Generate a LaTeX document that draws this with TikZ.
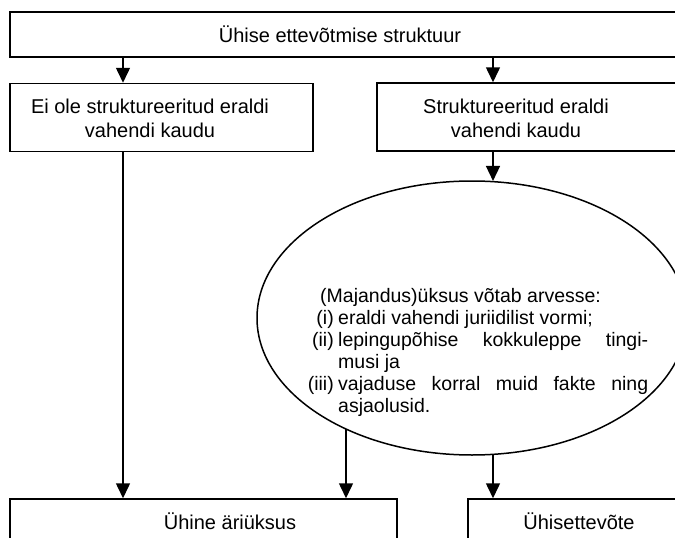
\documentclass[tikz,border=0pt]{standalone}
\usepackage{fontspec}
\setmainfont{Liberation Sans}
\usetikzlibrary{arrows.meta,shapes.geometric}
\begin{document}
\begin{tikzpicture}[x=1pt,y=-1pt,
  box/.style={draw,line width=1.5pt,rectangle,inner sep=0pt},
  arr/.style={line width=1.5pt,-{Triangle[width=14pt,length=15pt]}},
  txt/.style={font=\fontsize{20}{24}\selectfont,inner sep=0pt},
  etxt/.style={font=\fontsize{19.5}{24}\selectfont,inner sep=0pt},
]
\useasboundingbox (0,0) rectangle (675,538);
\fill[white] (0,0) rectangle (675,538);
\clip (0,0) rectangle (675,538);

\coordinate (cL) at (123,0);
\coordinate (cR) at (493,0);
\coordinate (cM) at (346,0);

\node[box,minimum width=690pt,minimum height=45pt] (top) at (355,34.5) {};
\node[box,minimum width=303pt,minimum height=68pt] (lb) at (161.5,117.5) {};
\node[box,minimum width=323pt,minimum height=68pt] (rb) at (538.5,117) {};
\node[draw,line width=1.5pt,ellipse,inner sep=0pt,minimum width=430pt,minimum height=274pt] (ell) at (472,318) {};
\node[box,minimum width=387pt,minimum height=71pt] (bl) at (203.5,534.5) {};
\node[box,minimum width=232pt,minimum height=71pt] (br) at (584,534.5) {};

\node[txt] (ttop) at (340,34) {Ühise ettevõtmise struktuur};
\node[txt,align=center] (tlb) at (150,118) {Ei ole struktureeritud eraldi\\vahendi kaudu};
\node[txt,align=center] (trb) at (516,118) {Struktureeritud eraldi\\vahendi kaudu};
\node[txt] (tbl) at (230,521) {Ühine äriüksus};
\node[txt] (tbr) at (579,521) {Ühisettevõte};

\node[etxt,anchor=base west] (e0) at (320,302) {(Majandus)üksus võtab arvesse:};
\node[etxt,anchor=base east] (l1) at (334,324) {(i)};
\node[etxt,anchor=base west] (e1) at (338,324) {eraldi vahendi juriidilist vormi;};
\node[etxt,anchor=base east] (l2) at (334,346) {(ii)};
\node[etxt,anchor=base west] (e2) at (338,346) {\makebox[310pt][s]{lepingupõhise\hfill kokkuleppe\hfill tingi-}};
\node[etxt,anchor=base west] (e3) at (338,368) {musi ja};
\node[etxt,anchor=base east] (l4) at (334,390) {(iii)};
\node[etxt,anchor=base west] (e4) at (338,390) {\makebox[310pt][s]{vajaduse\hfill korral\hfill muid\hfill fakte\hfill ning}};
\node[etxt,anchor=base west] (e5) at (338,412) {asjaolusid.};

\draw[arr] (top.south -| cL) -- (lb.north -| cL);
\draw[arr] (top.south -| cR) -- (rb.north -| cR);
\draw[arr] (lb.south -| cL) -- (bl.north -| cL);
\draw[arr] (rb.south -| cR) -- (ell.81.2 -| cR);
\draw[arr] (ell.221.4 -| cM) -- (bl.north -| cM);
\draw[arr] (ell.278.8 -| cR) -- (br.north -| cR);
\end{tikzpicture}
\end{document}
